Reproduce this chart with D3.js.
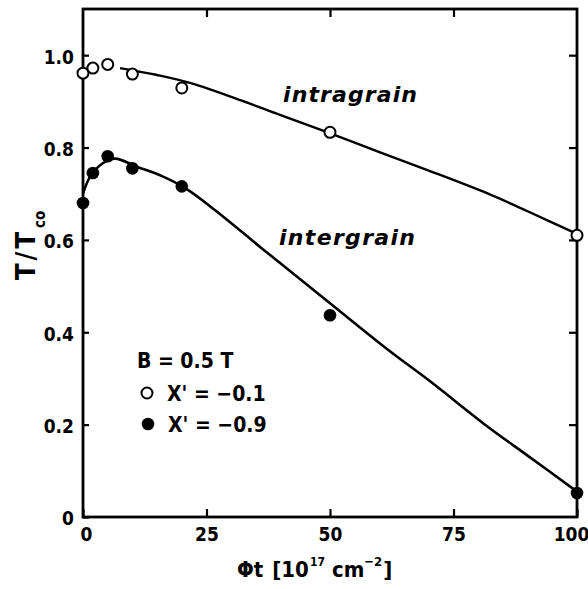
<!DOCTYPE html>
<html>
<head>
<meta charset="utf-8">
<script src="https://cdn.jsdelivr.net/npm/d3@7"></script>
<style>
  html, body { margin: 0; padding: 0; background: #fff; }
  svg { display: block; }
</style>
</head>
<body>
<script>
// Measured points: fluence (10^17 cm^-2) vs normalised critical temperature
const doseValues = [0, 2, 5, 10, 20, 50, 100];
const intragrainT = [0.961, 0.972, 0.980, 0.959, 0.929, 0.833, 0.61];
const intergrainT = [0.68, 0.745, 0.781, 0.755, 0.716, 0.437, 0.052];

// Guide curves drawn through the data
const intraCurveX = [7.5, 15, 22, 32, 40, 49, 60, 70, 82, 90, 100];
const intraCurveT = [0.972, 0.957, 0.939, 0.902, 0.870, 0.835, 0.79, 0.75, 0.70, 0.662, 0.613];
const interCurveX = [0, 1.4, 4, 6.5, 11, 16, 21, 27, 36.4, 50, 62, 70, 82, 90, 100];
const interCurveT = [0.70, 0.736, 0.766, 0.776, 0.758, 0.738, 0.710, 0.662, 0.580, 0.463, 0.36, 0.296, 0.195, 0.133, 0.055];

// Axis ticks
const xTicks = [0, 25, 50, 75, 100];
const yTicks = [0, 0.2, 0.4, 0.6, 0.8, 1.0];
const yTickLabels = ["0", "0.2", "0.4", "0.6", "0.8", "1.0"];

const W = 588, H = 589;
const plotLeft = 83, plotRight = 577, plotTop = 9, plotBottom = 517;
const labelFont = "'Liberation Sans Narrow', 'DejaVu Sans Condensed', 'Liberation Sans', sans-serif";

const x = d3.scaleLinear().domain([0, 100]).range([plotLeft, plotRight]);
const y = d3.scaleLinear().domain([0, 1.1]).range([plotBottom, plotTop]);

const svg = d3.select("body").append("svg")
  .attr("width", W).attr("height", H)
  .attr("viewBox", `0 0 ${W} ${H}`);

// Axes with inward ticks
const axisB = svg.append("g").attr("transform", `translate(0,${plotBottom})`)
  .call(d3.axisBottom(x).tickValues(xTicks).tickSizeInner(-8).tickSizeOuter(0).tickPadding(11).tickFormat(d3.format("d")));
const axisL = svg.append("g").attr("transform", `translate(${plotLeft},0)`)
  .call(d3.axisLeft(y).tickValues(yTicks).tickSizeInner(-6).tickSizeOuter(0).tickPadding(9)
    .tickFormat((d, i) => yTickLabels[i]));
const axisT = svg.append("g").attr("transform", `translate(0,${plotTop})`)
  .call(d3.axisTop(x).tickValues([25, 50, 75]).tickSizeInner(-8).tickSizeOuter(0).tickFormat(""));
const axisR = svg.append("g").attr("transform", `translate(${plotRight},0)`)
  .call(d3.axisRight(y).tickValues([0.2, 0.4, 0.6, 0.8, 1.0]).tickSizeInner(-8).tickSizeOuter(0).tickFormat(""));

[axisB, axisL, axisT, axisR].forEach(g => {
  g.select(".domain").remove();
  g.selectAll(".tick line").attr("stroke", "#000").attr("stroke-width", 2.2);
  g.selectAll(".tick text")
    .attr("fill", "#000")
    .attr("font-family", labelFont)
    .attr("font-weight", "bold")
    .attr("font-size", 19);
});
axisB.selectAll(".tick text").attr("dx", (d) => d === 0 ? 3 : (d === 100 ? -6 : 0));
axisL.selectAll(".tick text").attr("dy", "0.42em");

// Frame
svg.append("rect")
  .attr("x", plotLeft).attr("y", plotTop)
  .attr("width", plotRight - plotLeft).attr("height", plotBottom - plotTop)
  .attr("fill", "none").attr("stroke", "#000").attr("stroke-width", 2.8);

// Guide curves
const line = d3.line().x(d => x(d[0])).y(d => y(d[1])).curve(d3.curveCatmullRom.alpha(0.5));
svg.append("path")
  .datum(d3.zip(intraCurveX, intraCurveT))
  .attr("d", line).attr("fill", "none").attr("stroke", "#000").attr("stroke-width", 2.4);
svg.append("path")
  .datum(d3.zip(interCurveX, interCurveT))
  .attr("d", line).attr("fill", "none").attr("stroke", "#000").attr("stroke-width", 2.6);

// Data markers
svg.append("g").selectAll("circle")
  .data(d3.zip(doseValues, intragrainT))
  .join("circle")
  .attr("cx", d => x(d[0])).attr("cy", d => y(d[1])).attr("r", 5.5)
  .attr("fill", "#fff").attr("stroke", "#000").attr("stroke-width", 2);
svg.append("g").selectAll("circle")
  .data(d3.zip(doseValues, intergrainT))
  .join("circle")
  .attr("cx", d => x(d[0])).attr("cy", d => y(d[1])).attr("r", 6.3)
  .attr("fill", "#000");

// Curve labels
const curveLabel = (txt, px, py, len) => svg.append("text")
  .attr("x", px).attr("y", py)
  .attr("font-family", "'DejaVu Sans', sans-serif")
  .attr("font-style", "oblique").attr("font-weight", "bold")
  .attr("font-size", 22)
  .attr("textLength", len).attr("lengthAdjust", "spacing")
  .text(txt);
curveLabel("intragrain", 283, 102, 134);
curveLabel("intergrain", 279, 245, 136);

// Legend
const legendText = (txt, px, py) => svg.append("text")
  .attr("x", px).attr("y", py)
  .attr("font-family", labelFont).attr("font-weight", "bold").attr("font-size", 21)
  .text(txt);
legendText("B = 0.5 T", 137, 368);
svg.append("circle").attr("cx", 147).attr("cy", 393).attr("r", 5.5)
  .attr("fill", "#fff").attr("stroke", "#000").attr("stroke-width", 2);
legendText("X' = \u22120.1", 167, 401);
svg.append("circle").attr("cx", 148).attr("cy", 424).attr("r", 6.3).attr("fill", "#000");
legendText("X' = \u22120.9", 168, 432);

// Y axis title: T/T_co
const yTitle = svg.append("g").attr("transform", "translate(35,280) rotate(-90)")
  .attr("font-family", labelFont).attr("font-weight", "bold");
yTitle.append("text").attr("x", 0).attr("y", 0).attr("font-size", 27)
  .attr("textLength", 48).attr("lengthAdjust", "spacing").text("T/T");
yTitle.append("text").attr("x", 52).attr("y", 10).attr("font-size", 15).text("co");

// X axis title: Φt [10^17 cm^-2], laid out as one flowing line
const xTitle = svg.append("text")
  .attr("x", 0).attr("y", 577)
  .attr("font-family", labelFont).attr("font-weight", "bold").attr("font-size", 22);
xTitle.append("tspan").text("\u03A6t");
xTitle.append("tspan").attr("dx", 9).text("[10");
xTitle.append("tspan").attr("font-size", 12).attr("dy", -11).attr("dx", 1).text("17");
xTitle.append("tspan").attr("dy", 11).attr("dx", 7).text("cm");
xTitle.append("tspan").attr("font-size", 13).attr("dy", -11).text("\u22122");
xTitle.append("tspan").attr("dy", 11).attr("dx", 1).text("]");
// place the title so it spans the same width below the axis
{
  const bb = xTitle.node().getBBox();
  const targetLeft = 237, targetWidth = 171;
  const sx = Math.min(1, targetWidth / bb.width);
  xTitle.attr("transform", `translate(${targetLeft - bb.x * sx},0) scale(${sx},1)`);
}
</script>
</body>
</html>
